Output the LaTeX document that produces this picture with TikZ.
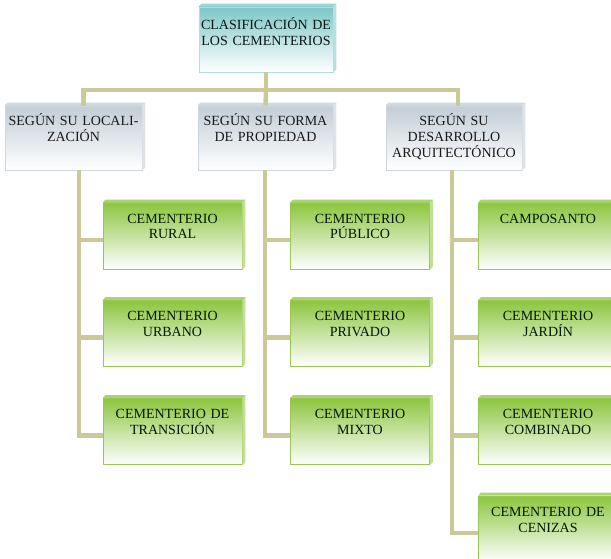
\documentclass[tikz,border=0pt]{standalone}
\usepackage{fontspec}
\setmainfont{Liberation Serif}
\definecolor{linkc}{HTML}{CBC99A}
\definecolor{tealc}{HTML}{7CC7C8}
\definecolor{greyc}{HTML}{C3CDD6}
\definecolor{greenc}{HTML}{8CC63F}
\tikzset{
  box/.style={inner ysep=0pt, inner xsep=2pt, align=center, text height=20pt,
    font=\fontsize{14}{16}\selectfont, line width=0.8pt},
  topbox/.style={box, text width=130pt, text height=23pt, text depth=42pt, top color=tealc, bottom color=white,
    draw=tealc!60, text=black!90!tealc},
  midbox/.style={box, text width=132pt, text depth=44pt, top color=greyc, bottom color=white,
    draw=greyc!80, text=black!90},
  leafbox/.style={box, text width=135pt, text depth=46pt, top color=greenc, bottom color=white,
    draw=greenc!80!linkc, text=black!90!green},
  link/.style={draw=linkc, line width=4.5pt}
}
\begin{document}
\begin{tikzpicture}
[x=1pt,y=-1pt]
\fill [white] (0,0) rectangle (611,559);
\useasboundingbox (0,0) rectangle (611,559);
\node [topbox] (top) at (266,39.5) {CLASIFICACIÓN DE\\LOS CEMENTERIOS};
\node [midbox,text width=133pt] (m1) at (73.5,138) {SEGÚN SU LOCALI-\\ZACIÓN};
\node [midbox,text width=131pt] (m2) at (265.5,138) {SEGÚN SU FORMA\\DE PROPIEDAD};
\node [midbox] (m3) at (454,138) {SEGÚN SU\\DESARROLLO\\ARQUITECTÓNICO};
\node [leafbox] (l1) at (172.5,236) {CEMENTERIO\\RURAL};
\node [leafbox] (l2) at (172.5,333.5) {CEMENTERIO\\URBANO};
\node [leafbox] (l3) at (172.5,431.5) {CEMENTERIO DE\\TRANSICIÓN};
\node [leafbox] (p1) at (360,236) {CEMENTERIO\\PÚBLICO};
\node [leafbox] (p2) at (360,333.5) {CEMENTERIO\\PRIVADO};
\node [leafbox] (p3) at (360,431.5) {CEMENTERIO\\MIXTO};
\node [leafbox] (a1) at (548,236) {CAMPOSANTO};
\node [leafbox] (a2) at (548,333.5) {CEMENTERIO\\JARDÍN};
\node [leafbox] (a3) at (548,431.5) {CEMENTERIO\\COMBINADO};
\node [leafbox] (a4) at (548,529) {CEMENTERIO DE\\CENIZAS};
\foreach \n/\c in {top/tealc,m1/greyc,m2/greyc,m3/greyc,l1/greenc,l2/greenc,l3/greenc,p1/greenc,p2/greenc,p3/greenc,a1/greenc,a2/greenc,a3/greenc,a4/greenc}
{
\fill [\c!75] (\n.north west) -- ++(3,-3) -- ([shift={(3,-3)}]\n.north east) -- (\n.north east) -- cycle;
\fill [\c!55] (\n.north east) -- ++(3,-3) -- ([shift={(3,-3)}]\n.south east) -- (\n.south east) -- cycle;
}
\coordinate (bus) at (266,90);
\draw [link] (top.south) -- (bus);
\draw [link] ([xshift=10pt]m1.north) |- (bus) -| ([xshift=4pt]m3.north);
\draw [link] (bus) -- (m2.north);
\foreach \n in {l1,l2,l3}
\draw [link] ([xshift=5.5pt]m1.south) |- ([yshift=-4pt]\n.west);
\foreach \n in {p1,p2,p3}
\draw [link] ([xshift=-0.5pt]m2.south) |- ([yshift=-4pt]\n.west);
\foreach \n in {a1,a2,a3,a4}
\draw [link] ([xshift=-2pt]m3.south) |- ([yshift=-4pt]\n.west);
\end{tikzpicture}
\end{document}
